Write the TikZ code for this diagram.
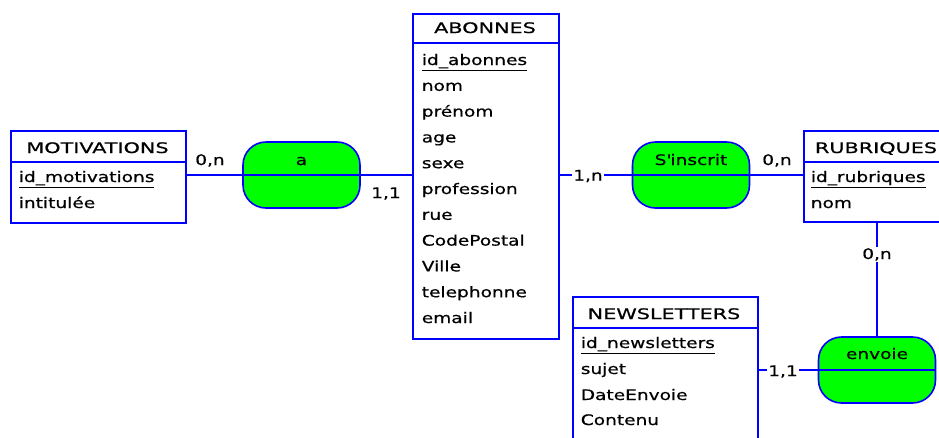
\documentclass[tikz,border=0pt]{standalone}
\usepackage{fontspec}
\setmainfont{DejaVu Sans}[FakeStretch=1.28,FakeBold=0.6]
\newfontfamily\erCapsFont{DejaVu Sans}[FakeStretch=1.43,FakeBold=0.6]
\definecolor{erblue}{RGB}{0,0,255}
\definecolor{ergreen}{RGB}{0,255,0}
\begin{document}
\begin{tikzpicture}[x=1pt,y=-1pt,
  font=\fontsize{14.5}{17}\selectfont,
  line width=1.6pt,
  entity/.style={draw=erblue, fill=white, rectangle, anchor=north west, inner sep=0},
  relation/.style={draw=erblue, fill=ergreen, rounded corners=23, minimum width=117, minimum height=66, inner sep=0},
  conn/.style={draw=erblue},
  txt/.style={anchor=base west, inner sep=0},
  ttl/.style={anchor=base, inner sep=0},
  ettl/.style={anchor=base, inner sep=0, font=\fontsize{14.5}{17}\erCapsFont},
  card/.style={anchor=base, inner sep=1.5},
  cardw/.style={anchor=base, inner sep=1.5, fill=white}]
\useasboundingbox (0,0) rectangle (939,437);
\clip (0,0) rectangle (939,437);
% entities
\node[entity, minimum width=175, minimum height=92] (mot) at (10,130) {};
\draw[conn] (mot.north west) ++(0,32) -- ++(175,0);
\node[ettl] (tmot) at (97.5,153) {MOTIVATIONS};
\node[txt] (m1) at (18,182) {\underline{id\_motivations}};
\node[txt] (m2) at (18,208) {intitulée};

\node[entity, minimum width=146, minimum height=325] (ab) at (412,13) {};
\draw[conn] (ab.north west) ++(0,30) -- ++(146,0);
\node[ettl] (tab) at (485,33) {ABONNES};
\node[txt] (a1) at (421,65) {\underline{id\_abonnes}};
\node[txt] (a2) at (421,90.8) {nom};
\node[txt] (a3) at (421,116.6) {prénom};
\node[txt] (a4) at (421,142.4) {age};
\node[txt] (a5) at (421,168.2) {sexe};
\node[txt] (a6) at (421,194) {profession};
\node[txt] (a7) at (421,219.8) {rue};
\node[txt] (a8) at (421,245.6) {CodePostal};
\node[txt] (a9) at (421,271.4) {Ville};
\node[txt] (a10) at (421,297.2) {telephonne};
\node[txt] (a11) at (421,323) {email};

\node[entity, minimum width=148, minimum height=91] (rub) at (803,130) {};
\draw[conn] (rub.north west) ++(0,32) -- ++(148,0);
\node[ettl] (trub) at (876,153) {RUBRIQUES};
\node[txt] (r1) at (810,182) {\underline{id\_rubriques}};
\node[txt] (r2) at (810,208) {nom};

\node[entity, minimum width=185, minimum height=170] (news) at (572,296) {};
\draw[conn] (news.north west) ++(0,32) -- ++(185,0);
\node[ettl] (tnews) at (664,319) {NEWSLETTERS};
\node[txt] (n1) at (580,348) {\underline{id\_newsletters}};
\node[txt] (n2) at (580,374) {sujet};
\node[txt] (n3) at (580,400) {DateEnvoie};
\node[txt] (n4) at (580,425) {Contenu};

% relations
\node[relation] (ra) at (301.5,175) {};
\draw[conn] (ra.west) -- (ra.east);
\node[ttl] (tra) at (301.5,165) {a};
\node[relation] (rs) at (691,175) {};
\draw[conn] (rs.west) -- (rs.east);
\node[ttl] (trs) at (691,165) {S\textquotesingle inscrit};
\node[relation] (re) at (877,370) {};
\draw[conn] (re.west) -- (re.east);
\node[ttl] (tre) at (877,359) {envoie};

% connectors
\draw[conn] (ra.west -| mot.east) -- (ra.west);
\draw[conn] (ra.east) -- (ra.east -| ab.west);
\draw[conn] (rs.west -| ab.east) -- (rs.west);
\draw[conn] (rs.east) -- (rs.east -| rub.west);
\draw[conn] (re.north |- rub.south) -- (re.north);
\draw[conn] (re.west -| news.east) -- (re.west);

% cardinalities
\node[card] (c1) at (210,165) {0,n};
\node[card] (c2) at (386,198) {1,1};
\node[cardw] (c3) at (588,180.5) {1,n};
\node[card] (c4) at (777,165) {0,n};
\node[cardw] (c5) at (877,259) {0,n};
\node[cardw] (c6) at (783,376) {1,1};
\end{tikzpicture}
\end{document}
